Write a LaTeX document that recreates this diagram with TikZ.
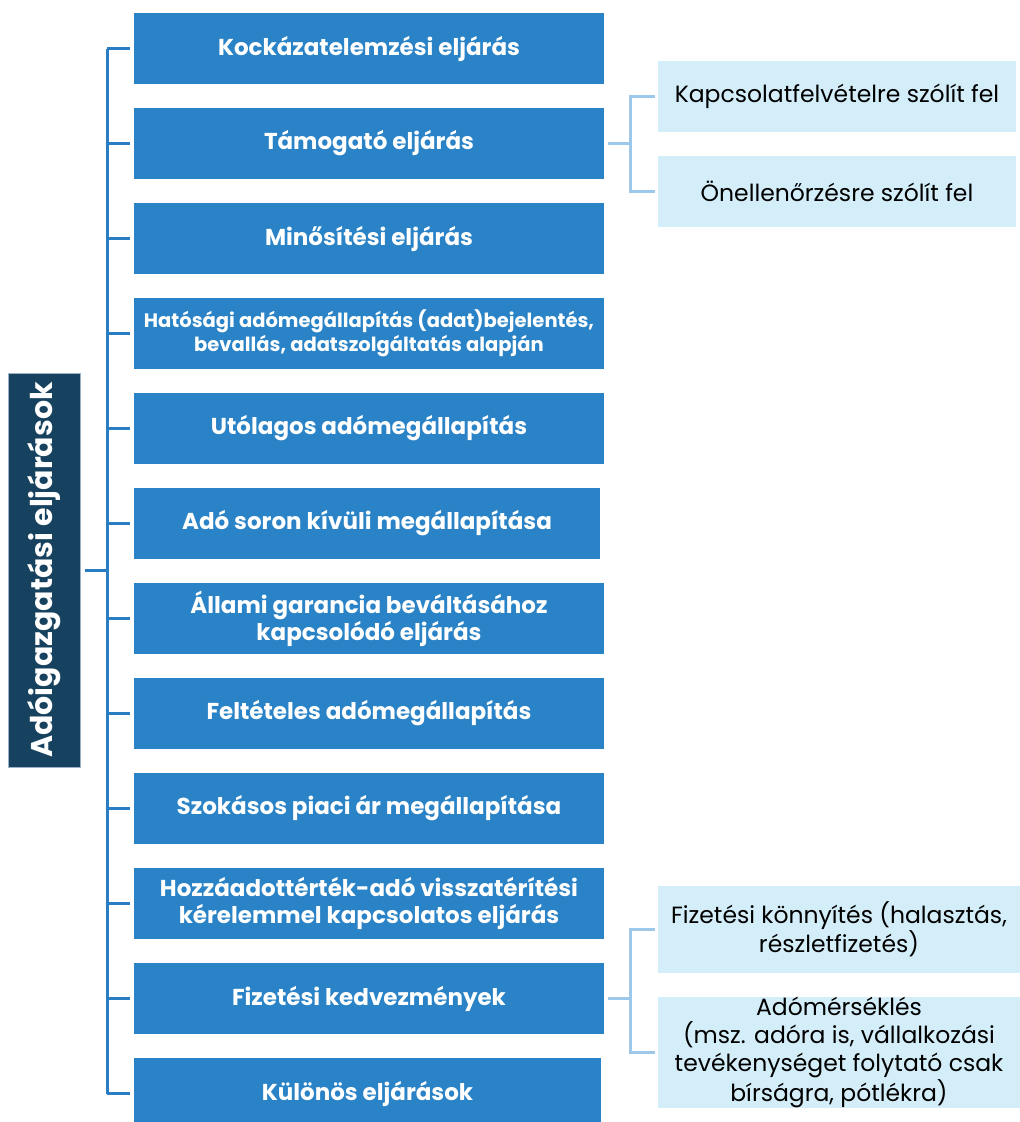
\documentclass[tikz,border=0pt]{standalone}
\usepackage{graphicx}
\usepackage{fontspec}
\setmainfont{Poppins}
\definecolor{boxblue}{HTML}{2A83C6}
\definecolor{trunkblue}{HTML}{2A7DC2}
\definecolor{navy}{HTML}{17425F}
\definecolor{navyedge}{HTML}{9DB2C4}
\definecolor{paleblue}{HTML}{D4EEF9}
\definecolor{subline}{HTML}{9CC9EB}
\begin{document}
\begin{tikzpicture}[x=1pt,y=-1pt,
  mainbox/.style={fill=boxblue, draw=none, minimum width=470pt, minimum height=71pt,
    inner sep=0pt, text=white, font=\bfseries\fontsize{23}{27}\selectfont, align=center},
  subbox/.style={fill=paleblue, draw=none, minimum width=358pt, inner sep=0pt,
    text=black, font=\fontsize{23.5}{28}\selectfont, align=center},
  trunkline/.style={draw=trunkblue, line width=3pt},
  branchline/.style={draw=subline, line width=3pt}]
\useasboundingbox (0,0) rectangle (1020,1122);
\clip (0,0) rectangle (1020,1122);
\fill[white] (0,0) rectangle (1020,1122);

% root label, text turned to read upwards
\node[fill=navy, draw=navyedge, line width=1pt, minimum width=72pt, minimum height=394pt,
  inner sep=0pt, text=white, font=\bfseries\fontsize{30}{34}\selectfont]
  (root) at (44,570) {\rotatebox{90}{Adóigazgatási eljárások}};

% main procedures
\node[mainbox] (b1)  at (369,48.5)  {Kockázatelemzési eljárás};
\node[mainbox] (b2)  at (369,143.5) {Támogató eljárás};
\node[mainbox] (b3)  at (369,238.5) {Minősítési eljárás};
\node[mainbox, font=\bfseries\fontsize{19.5}{24}\selectfont] (b4) at (369,333.5)
  {Hatósági adómegállapítás (adat)bejelentés,\\bevallás, adatszolgáltatás alapján};
\node[mainbox] (b5)  at (369,428.5) {Utólagos adómegállapítás};
\node[mainbox, minimum width=466pt] (b6) at (367,523.5) {Adó soron kívüli megállapítása};
\node[mainbox] (b7)  at (369,618.5) {Állami garancia beváltásához\\kapcsolódó eljárás};
\node[mainbox] (b8)  at (369,713.5) {Feltételes adómegállapítás};
\node[mainbox] (b9)  at (369,808.5) {Szokásos piaci ár megállapítása};
\node[mainbox] (b10) at (369,903.5) {Hozzáadottérték-adó visszatérítési\\kérelemmel kapcsolatos eljárás};
\node[mainbox] (b11) at (369,998.5) {Fizetési kedvezmények};
\node[mainbox, minimum width=467pt] (b12) at (367.5,1093.5) {Különös eljárások};

% sub-items
\node[subbox, minimum height=71pt] (s1) at (837,96)  {Kapcsolatfelvételre szólít fel};
\node[subbox, minimum height=71pt] (s2) at (837,191) {Önellenőrzésre szólít fel};
\node[subbox, minimum width=362pt, minimum height=87pt] (s3) at (839,929.5)
  {Fizetési könnyítés (halasztás,\\részletfizetés)};
\node[subbox, minimum width=362pt, minimum height=111pt] (s4) at (839,1052.5)
  {Adómérséklés\\(msz. adóra is, vállalkozási\\tevékenységet folytató csak\\bírságra, pótlékra)};

% trunk and ticks
\coordinate (tr) at (107,0);
\draw[trunkline] (b1.west -| tr) -- (b12.west -| tr);
\draw[trunkline, shorten <=4pt] (root.east) -- (root.east -| tr);
\foreach \i in {1,...,12}{
  \draw[trunkline, shorten <=4pt] (b\i.west) -- (b\i.west -| tr);
}

% branches to sub-items
\coordinate (br) at (630,0);
\draw[branchline, shorten <=4pt] (b2.east) -- (b2.east -| br);
\draw[branchline, shorten <=3pt, shorten >=3pt] (s1.west) -- (s1.west -| br) -- (s2.west -| br) -- (s2.west);
\draw[branchline, shorten <=4pt] (b11.east) -- (b11.east -| br);
\draw[branchline, shorten <=3pt, shorten >=3pt] (s3.west) -- (s3.west -| br) -- (s4.west -| br) -- (s4.west);
\end{tikzpicture}
\end{document}
